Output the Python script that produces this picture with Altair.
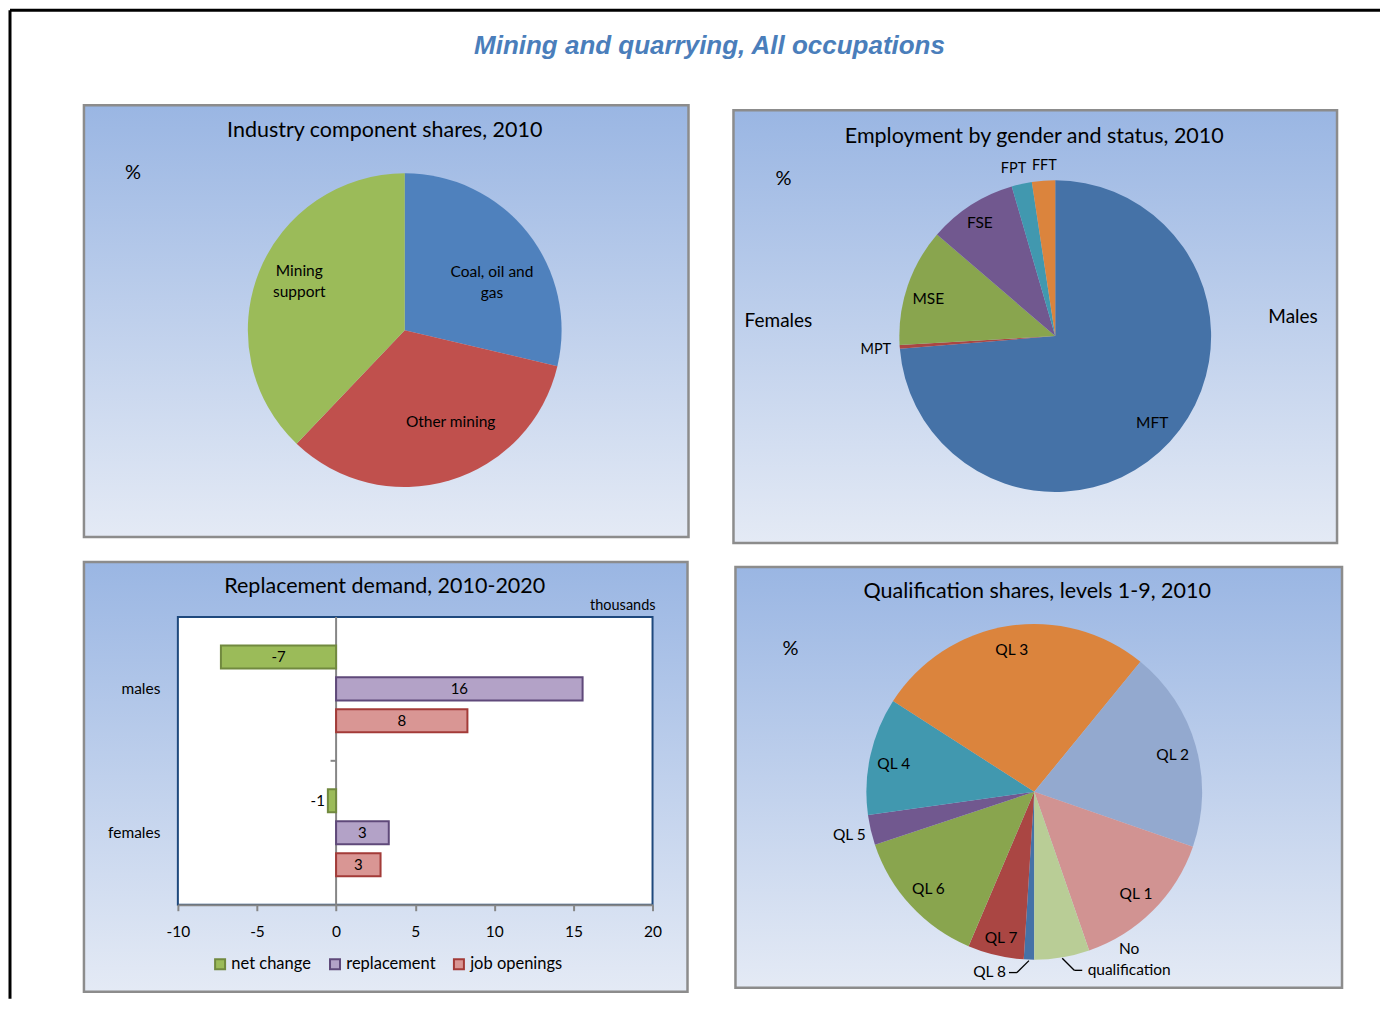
import math
import altair as alt
import pandas as pd

# ---------------- data ----------------
industry_labels = ["Coal, oil and\ngas", "Other mining", "Mining\nsupport"]
industry_shares = [28.7, 33.4, 37.9]

employment_labels = ["MFT", "MPT", "MSE", "FSE", "FPT", "FFT"]
employment_shares = [73.7, 0.4, 12.2, 9.2, 2.1, 2.4]

groups = ["males", "females"]
series = ["net change", "replacement", "job openings"]
males_values = [-7.28, 15.58, 8.3]
females_values = [-0.52, 3.33, 2.81]
x_tick_values = [-10, -5, 0, 5, 10, 15, 20]

qual_labels = ["QL 8", "QL 7", "QL 6", "QL 5", "QL 4", "QL 3", "QL 2", "QL 1", "No\nqualification"]
qual_shares = [1.0, 5.4, 13.5, 2.9, 11.3, 26.8, 19.4, 14.4, 5.3]

# ---------------- styles ----------------
FONT = "Lato"
TITLE_SIZE = 21.5
LABEL_SIZE = 15.5
industry_colors = ["#4F81BD", "#C0504D", "#9BBB59"]
employment_colors = ["#4572A7", "#AA4643", "#89A54E", "#71588F", "#4198AF", "#DB843D"]
qual_colors = ["#4572A7", "#AA4643", "#89A54E", "#71588F", "#4198AF", "#DB843D",
               "#93A9CF", "#D19392", "#B9CD96"]
bar_fill = ["#9BBB59", "#B3A2C7", "#D99694"]
bar_stroke = ["#71893F", "#5F497A", "#A33B38"]

PW = 605
GRAD = alt.LinearGradient(
    gradient="linear",
    stops=[alt.GradientStop(color="#9AB6E3", offset=0),
           alt.GradientStop(color="#E4EAF5", offset=1)],
    x1=0, x2=0, y1=0, y2=1)

one = pd.DataFrame({"k": [0]})


def background(x0, y0, x1, y1):
    return alt.Chart(one).mark_rect(fill=GRAD, stroke="#8C8C8C", strokeWidth=2.5).encode(
        x=alt.value(x0), x2=alt.value(x1), y=alt.value(y0), y2=alt.value(y1))


def label(text, x, y, size, **kw):
    return alt.Chart(one).mark_text(text=text, font=FONT, fontSize=size, color="black", **kw).encode(
        x=alt.value(x), y=alt.value(y))


def pie(labels, shares, colors, cx, cy, R, start_deg):
    df = pd.DataFrame({"cat": labels, "share": shares, "idx": list(range(len(labels)))})
    total = float(sum(shares))
    a0 = math.radians(start_deg)
    tscale = alt.Scale(domain=[0, total], range=[a0, a0 + 2 * math.pi])
    base = (alt.Chart(df)
            .transform_window(cum="sum(share)", sort=[alt.SortField("idx")], frame=[None, 0])
            .transform_calculate(start="datum.cum - datum.share")
            .transform_calculate(mid="datum.cum - datum.share / 2")
            .transform_calculate(ang=f"{a0} + 2 * PI * datum.mid / {total}"))
    arcs = base.mark_arc(outerRadius=R).encode(
        theta=alt.Theta("start:Q", scale=tscale, stack=False),
        theta2="cum:Q",
        color=alt.Color("cat:N", scale=alt.Scale(domain=labels, range=colors), legend=None),
        x=alt.value(cx), y=alt.value(cy))
    return base, tscale, arcs


def pie_labels(base, tscale, cx, cy, specs, size=LABEL_SIZE):
    """specs: list of (category, radius, dx, dy) - label placement along the slice's mid angle."""
    layers = []
    for cat, r, dx, dy in specs:
        layers.append(
            base.transform_filter(alt.FieldEqualPredicate(field="cat", equal=cat))
            .mark_text(font=FONT, fontSize=size, color="black", lineBreak="\n", lineHeight=21,
                       dx=dx, dy=dy)
            .encode(theta=alt.Theta("mid:Q", scale=tscale, stack=False),
                    radius=alt.value(r), text="cat:N",
                    x=alt.value(cx), y=alt.value(cy)))
    return layers


# ---------------- panel 1 ----------------
H1 = 432
b1, t1, arcs1 = pie(industry_labels, industry_shares, industry_colors, 321, 225, 157, 0)
p1 = alt.layer(
    background(0, 0, 605, 432),
    arcs1,
    *pie_labels(b1, t1, 321, 225, [(industry_labels[0], 105, 5, 7),
                                   (industry_labels[1], 105, 16, -9),
                                   (industry_labels[2], 105, -8, -20)]),
    label("Industry component shares, 2010", 301, 26, TITLE_SIZE),
    label("%", 49, 68, 20),
    alt.Chart(one).mark_text(
        text="Mining and quarrying, All occupations", font="Liberation Sans", fontSize=26,
        fontStyle="italic", fontWeight="bold", color="#4A7EBB").encode(
        x=alt.value(626), y=alt.value(-59)),
    alt.Chart(one).mark_rule(color="black", strokeWidth=3).encode(
        x=alt.value(-74), y=alt.value(-95), y2=alt.value(894)),
    alt.Chart(one).mark_rule(color="black", strokeWidth=3).encode(
        x=alt.value(-74), x2=alt.value(1297), y=alt.value(-95)),
).properties(width=PW, height=H1)

# ---------------- panel 2 ----------------
b2, t2, arcs2 = pie(employment_labels, employment_shares, employment_colors, 322, 231, 156, 0)
p2 = alt.layer(
    background(0, 5, 604, 438),
    arcs2,
    *pie_labels(b2, t2, 322, 231, [("MFT", 132, 0, -3), ("MSE", 132, -2, 5), ("FSE", 132, -4, -2)]),
    *pie_labels(b2, t2, 322, 231, [("MPT", 171, -9, 2), ("FPT", 171, -5, 0), ("FFT", 171, 2, 0)],
                size=14.5),
    label("Employment by gender and status, 2010", 301, 32, TITLE_SIZE),
    label("%", 50, 74, 20),
    label("Females", 45, 216, 19),
    label("Males", 560, 212, 19),
).properties(width=PW, height=H1)

# ---------------- panel 3 ----------------
H3 = 430
rows = []
for g, vals in zip(groups, [males_values, females_values]):
    for s, v in zip(series, vals):
        rows.append({"group": g, "series": s, "value": v})
bar_df = pd.DataFrame(rows)

xscale = alt.Scale(domain=[-10, 20], range=[94, 569], nice=False, zero=False)
yscale = alt.Scale(domain=groups, range=[55, 343], paddingInner=0, paddingOuter=0)
yoff = alt.Scale(domain=series, paddingInner=0.28, paddingOuter=0.89)
legend = alt.Legend(title=None, orient="none", legendX=128, legendY=394, direction="horizontal",
                    symbolType="square", symbolSize=100, symbolStrokeWidth=2,
                    labelFont=FONT, labelFontSize=16.5, labelColor="black",
                    columnPadding=14, labelOffset=3)

bars_base = alt.Chart(bar_df)
bars = bars_base.mark_bar(strokeWidth=2).encode(
    x=alt.X("value:Q", scale=xscale,
            axis=alt.Axis(values=x_tick_values, orient="bottom", offset=-87, tickSize=6,
                          tickWidth=2, tickColor="#868686", domainColor="#868686", domainWidth=2,
                          labelFont=FONT, labelFontSize=15.5, labelColor="black", labelPadding=14,
                          grid=False, title=None, zindex=1, labelFlush=False)),
    y=alt.Y("group:N", scale=yscale,
            axis=alt.Axis(orient="left", offset=-94, domain=False, ticks=False,
                          labelFont=FONT, labelFontSize=15.5, labelColor="black",
                          labelPadding=18, title=None, zindex=1)),
    yOffset=alt.YOffset("series:N", scale=yoff),
    fill=alt.Fill("series:N", scale=alt.Scale(domain=series, range=bar_fill), legend=legend),
    stroke=alt.Stroke("series:N", scale=alt.Scale(domain=series, range=bar_stroke), legend=legend),
)
frame = alt.Chart(one).mark_rect(fill="white", stroke="#1F497D", strokeWidth=2).encode(
    x=alt.value(94), x2=alt.value(569), y=alt.value(55), y2=alt.value(343))
zero_line = alt.Chart(one).mark_rule(color="#868686", strokeWidth=2).encode(
    x=alt.X(datum=0), y=alt.value(55), y2=alt.value(343))
mid_tick = alt.Chart(one).mark_rule(color="#868686", strokeWidth=2).encode(
    x=alt.X(datum=-0.35), x2=alt.X2(datum=0), y=alt.value(199))
in_labels = bars_base.transform_filter("abs(datum.value) >= 1").transform_calculate(
    half="datum.value / 2").mark_text(font=FONT, fontSize=15, color="black").encode(
    x=alt.X("half:Q"), y=alt.Y("group:N"), yOffset=alt.YOffset("series:N"),
    text=alt.Text("value:Q", format=".0f"))
out_labels = bars_base.transform_filter("abs(datum.value) < 1").mark_text(
    font=FONT, fontSize=15, color="black", align="right", dx=-3).encode(
    x=alt.X("value:Q"), y=alt.Y("group:N"), yOffset=alt.YOffset("series:N"),
    text=alt.Text("value:Q", format=".0f"))

p3 = alt.layer(
    background(0, 0, 604, 430),
    frame,
    zero_line,
    mid_tick,
    bars,
    in_labels,
    out_labels,
    label("Replacement demand, 2010-2020", 301, 25, TITLE_SIZE),
    label("thousands", 572, 44, 14.5, align="right"),
).properties(width=PW, height=H3)

# ---------------- panel 4 ----------------
cx4, cy4, R4 = 301, 230, 168
b4, t4, arcs4 = pie(qual_labels, qual_shares, qual_colors, cx4, cy4, R4, 180)
leader_cats = ["QL 8", "No\nqualification"]
lead = (b4.transform_filter(alt.FieldOneOfPredicate(field="cat", oneOf=leader_cats))
        .transform_calculate(side="sin(datum.ang) < 0 ? -1 : 1")
        .transform_calculate(lx1=f"{cx4} + {R4 + 1} * sin(datum.ang)")
        .transform_calculate(ly1=f"{cy4} - {R4 + 1} * cos(datum.ang)")
        .transform_calculate(lx2="datum.lx1 + datum.side * 12")
        .transform_calculate(ly2="datum.ly1 + (cos(datum.ang) < 0 ? 12 : -12)")
        .transform_calculate(lx3="datum.lx2 + datum.side * 8"))
lead_a = lead.mark_rule(color="black", strokeWidth=1.3).encode(
    x=alt.X("lx1:Q", scale=None, axis=None), y=alt.Y("ly1:Q", scale=None, axis=None),
    x2="lx2:Q", y2="ly2:Q")
lead_b = lead.mark_rule(color="black", strokeWidth=1.3).encode(
    x=alt.X("lx2:Q", scale=None, axis=None), y=alt.Y("ly2:Q", scale=None, axis=None),
    x2="lx3:Q")
lab_q8 = lead.transform_filter(alt.FieldEqualPredicate(field="cat", equal="QL 8")).mark_text(
    font=FONT, fontSize=LABEL_SIZE, color="black", align="right", dx=-3, dy=-1).encode(
    x=alt.X("lx3:Q", scale=None, axis=None), y=alt.Y("ly2:Q", scale=None, axis=None), text="cat:N")
lab_nq = lead.transform_filter(alt.FieldEqualPredicate(field="cat", equal="No\nqualification")).mark_text(
    font=FONT, fontSize=LABEL_SIZE, color="black", lineBreak="\n", lineHeight=21, dx=47, dy=-21).encode(
    x=alt.X("lx3:Q", scale=None, axis=None), y=alt.Y("ly2:Q", scale=None, axis=None), text="cat:N")

inside_specs = [("QL 7", 144, 0, 6), ("QL 6", 144, 0, 0), ("QL 4", 144, 0, 3),
                ("QL 3", 144, 0, 0), ("QL 2", 144, 0, 2), ("QL 1", 144, 0, 0),
                ("QL 5", 190, 0, 0)]
p4 = alt.layer(
    background(2, 5, 609, 426),
    arcs4,
    *pie_labels(b4, t4, cx4, cy4, inside_specs),
    lead_a, lead_b, lab_q8, lab_nq,
    label("Qualification shares, levels 1-9, 2010", 304, 30, TITLE_SIZE),
    label("%", 57, 87, 20),
).properties(width=PW, height=H3)

ind = dict(color="independent", theta="independent", fill="independent",
           stroke="independent", x="independent", y="independent")
chart = (alt.concat(p1, p2, p3, p4, columns=2, spacing={"row": 25, "column": 45},
                    bounds="flush",
                    padding={"left": 0, "top": 0, "right": 0, "bottom": 0})
         .resolve_scale(**ind)
         .configure(locale={"number": {"decimal": ".", "thousands": ",", "grouping": [3],
                                       "currency": ["$", ""], "minus": "-"}})
         .configure_view(stroke=None))

chart.save("out.html", embed_options={"renderer": "svg", "actions": False})
